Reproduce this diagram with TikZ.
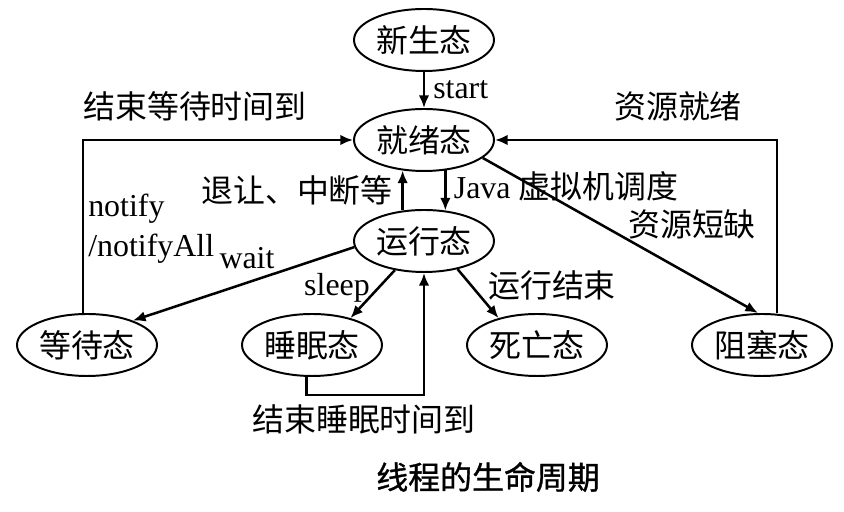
\documentclass[tikz,border=0pt]{standalone}
\usepackage{fontspec}
\setmainfont{Liberation Serif}
\newfontfamily\cjk{Noto Sans CJK SC}
\newfontfamily\cjkheavy[FakeBold=1]{Noto Sans CJK SC}
\usetikzlibrary{shapes.geometric,arrows.meta}

\tikzset{
  stnode/.style={ellipse,draw,line width=1.4pt,minimum width=3.5cm,minimum height=1.55cm,inner sep=0pt,font=\fontsize{22.7}{28.5}\selectfont\cjk},
  lbl/.style={inner sep=0pt,font=\fontsize{22.7}{28.5}\selectfont\cjk},
  eng/.style={inner sep=0pt,font=\fontsize{22.7}{28.5}\selectfont}
}

\begin{document}
\begin{tikzpicture}[>={Latex[length=9pt,width=7.5pt]},line width=1.8pt]
                \useasboundingbox(0,0)rectangle(21.1,12.8);
                \node[stnode](new)at(10.6,11.8){新生态};
                \node[stnode](ready)at(10.6,9.3){就绪态};
                \node[stnode](run)at(10.6,6.775){运行态};
                \node[stnode](wait)at(2.175,4.175){等待态};
                \node[stnode](sleep)at(7.8,4.175){睡眠态};
                \node[stnode](dead)at(13.425,4.175){死亡态};
                \node[stnode](block)at(19.05,4.175){阻塞态};

                \draw[->](new)--(ready)node[midway,right,eng,xshift=0.2cm](startlbl){start};
                \draw[->](run.125)--(ready.235);
                \draw[->](ready.305)--(run.55);
                \draw[->]([xshift=-0.1cm]wait.north)|-(ready.west);
                \draw[->]([xshift=0.375cm]block.north)|-(ready.east);
                \draw[->](ready.-17)--([xshift=-0.1cm]block.north);
                \draw[->](run.185)--(wait.28);
                \draw[->](run.225)--(sleep.35);
                \draw[->](run.320)--(dead.145);
                \draw[->](sleep.260)--++(0,-0.45)-|(run.south);

                \node[lbl](waitend)at(4.875,10.15){结束等待时间到};
                \node[lbl](resready)at(16.95,10.15){资源就绪};
                \node[lbl](yield)at(7.425,8.05){退让、中断等};
                \node[eng](sched)at(14.15,8.15){Java {\cjk 虚拟机调度}};
                \node[lbl](shortage)at(17.3,7.2){资源短缺};
                \node[eng,anchor=base west](notify)at(2.175,7.375){notify};
                \node[eng,anchor=base west](notifyall)at(2.175,6.375){/notifyAll};
                \node[eng](waitlbl)at(6.175,6.35){wait};
                \node[eng](sleeplbl)at(8.425,5.6){sleep};
                \node[lbl](runend)at(13.8,5.675){运行结束};
                \node[lbl](sleepend)at(9.1,2.325){结束睡眠时间到};
                \node[lbl,font=\fontsize{22.7}{28.5}\selectfont\cjkheavy](title)at(12.2,0.875){线程的生命周期};
            \end{tikzpicture}
\end{document}
